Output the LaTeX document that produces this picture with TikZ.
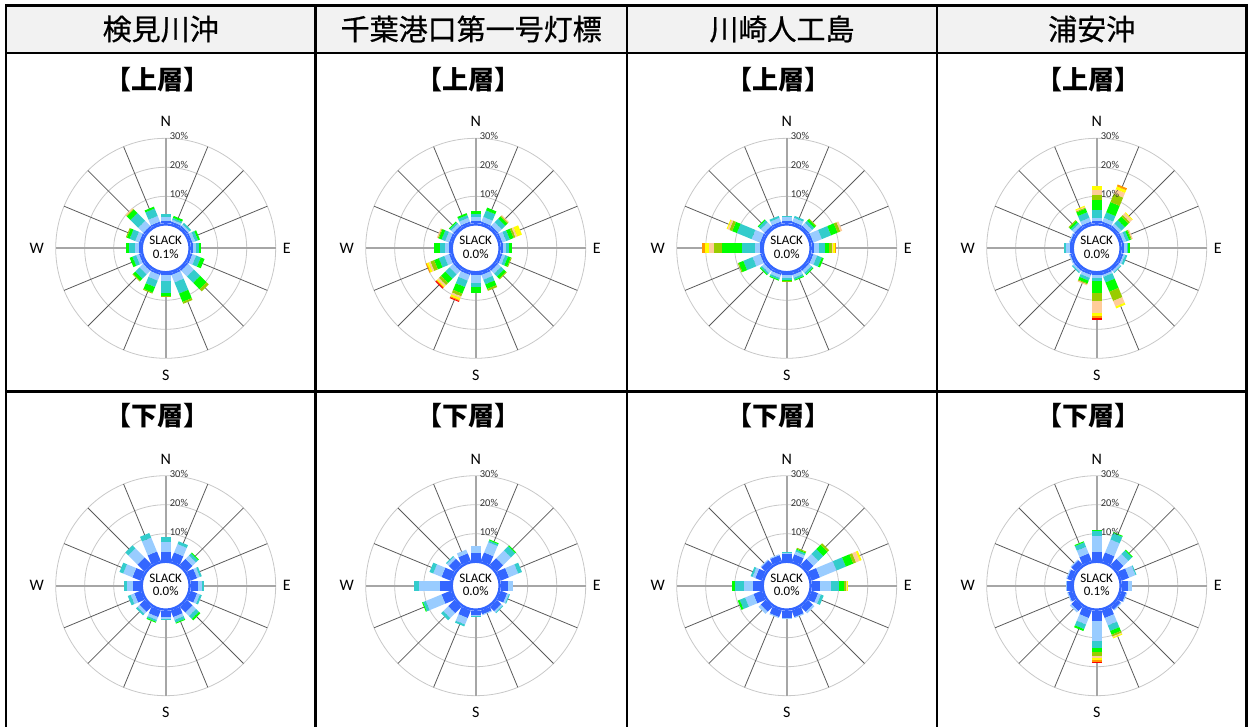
\documentclass[tikz,border=0pt]{standalone}
\usepackage{fontspec}
\setmainfont{Carlito}
\newfontfamily\jpfont{Noto Sans CJK JP}
\newfontfamily\jphead[FakeBold=0.6]{Noto Sans CJK JP}
\usetikzlibrary{calc}

% velocity classes, slowest first
\definecolor{vc1}{HTML}{3366FF}
\definecolor{vc2}{HTML}{99CCFF}
\definecolor{vc3}{HTML}{33CCCC}
\definecolor{vc4}{HTML}{00FF00}
\definecolor{vc5}{HTML}{99CC00}
\definecolor{vc6}{HTML}{FFCC99}
\definecolor{vc7}{HTML}{FFFF00}
\definecolor{vc8}{HTML}{FF9900}
\definecolor{vc9}{HTML}{FF0000}
\definecolor{headgray}{HTML}{F2F2F2}
\definecolor{ringgray}{HTML}{C8C8C8}
\definecolor{spokegray}{HTML}{5A5A5A}
\definecolor{axisgray}{HTML}{A6A6A6}

\tikzset{
  tabline/.style={line width=2.4pt, black},
  ringline/.style={line width=0.8pt, ringgray},
  spoke/.style={line width=0.8pt, spokegray},
  axisline/.style={line width=1.6pt, axisgray},
  vbar/.style={line width=10pt},
  dirlabel/.style={font=\fontsize{16}{18}\selectfont, inner sep=0pt},
  pctlabel/.style={font=\fontsize{10.5}{12}\selectfont, inner sep=0pt, anchor=west, text=black!80},
  slacktext/.style={font=\fontsize{13}{14}\selectfont, inner sep=0pt},
  headtext/.style={font=\jphead\fontsize{29}{32}\selectfont, inner sep=0pt},
  layertext/.style={font=\jpfont\bfseries\fontsize{26}{28}\selectfont, inner sep=0pt},
}

\def\windrose[#1](#2)#3#4{% [name] (centre) {slack} {16 bars from N clockwise, end radii}
 \begin{scope}[shift={(#2)}, yscale=-1]
  \foreach \rr in {52,81,110} \draw[ringline] (0,0) circle (\rr);
  \foreach \a in {0,22.5,...,337.5} \draw[spoke] (\a:25) -- (\a:110);
  \draw[axisline] (0,25) -- (0,110) (0,-25) -- (0,-110) (25,0) -- (110,0) (-25,0) -- (-110,0);
  \foreach \bl [count=\i from 0] in {#4} {
   \foreach \r [remember=\r as \rlast (initially 25), count=\k] in \bl {
    \draw[vbar, color=vc\k] ({90-22.5*\i}:\rlast) -- ({90-22.5*\i}:\r);
   }
  }
  \draw[vc1, line width=2.4pt, fill=white] (0,0) circle (24);
  \node[slacktext] (#1-slack) at (0,7.6) {SLACK};
  \node[slacktext] (#1-calm) at (0,-5.7) {#3};
  \node[pctlabel] (#1-p10) at (4,54) {10\%};
  \node[pctlabel] (#1-p20) at (4,83) {20\%};
  \node[pctlabel] (#1-p30) at (4,112) {30\%};
  \node[dirlabel] (#1-N) at (0,126.6) {N};
  \node[dirlabel] (#1-S) at (0,-126.7) {S};
  \node[dirlabel] (#1-E) at (121,0) {E};
  \node[dirlabel] (#1-W) at (-129,0) {W};
 \end{scope}}

\begin{document}
\begin{tikzpicture}[x=1pt, y=-1pt]
\useasboundingbox (0,0) rectangle (1249,727);
% table
\fill[headgray] (6,5.5) rectangle (1246.5,53);
\draw[tabline] (6,727) -- (6,5.5) -- (1246.5,5.5) -- (1246.5,727);
\draw[tabline] (6,53) -- (1246.5,53) (6,391.5) -- (1246.5,391.5);
\foreach \x in {315.5,627,937} \draw[tabline] (\x,5.5) -- (\x,727);

\node[headtext] (head1) at (160.7,29) {検見川沖};
\node[headtext] (head2) at (471.2,29) {千葉港口第一号灯標};
\node[headtext] (head3) at (782,29) {川崎人工島};
\node[headtext] (head4) at (1091.7,29) {浦安沖};

\foreach \x [count=\c] in {157,468,778.5,1088.5} {
  \node[layertext] (upper\c) at (\x,80) {【上層】};
  \node[layertext] (lower\c) at (\x,416) {【下層】};
}

% upper layer
\windrose[ua](165.7,248.3){0.1\%}{{27,31,34},{27,29,31,33},{27,29,31},{27,30,33,35},{27,30,33,35},{27,31,36,40},{27,35,44,53,56},{27,35,47,56,58},{27,33,45,48,49},{27,33,40,46,47},{27,32,38,41,42},{27,30,34,37},{27,31,37,40},{27,31,37,40,41},{27,34,45,50,51,52},{27,33,41,43}}
\windrose[ub](475.7,248.3){0.0\%}{{27,31,34,37},{27,32,39,42},{27,32,37,40,41,42},{27,31,35,39,41,43,48},{27,30,33,36},{27,30,33,36,37},{27,31,35,38,39},{27,32,37,42,44},{27,35,39,45},{27,33,40,47,50,52,54,55,56},{27,32,38,44,47,49,50,51,52},{27,32,38,43,47,49,51,52},{27,31,36,42},{27,31,35,38,39,40},{27,30,32,33},{27,31,34,36}}
\windrose[uc](786.7,248.3){0.0\%}{{27,31,32},{27,31,33},{27,31,34,36,37},{27,36,46,53,56,58},{27,32,38,42,45,46,48,49},{27,31,36,38},{27,30,32,33},{27,30,32,33},{27,30,32,33,34},{27,30,32,33},{27,30,32,33},{27,35,45,50,51},{27,32,45,65,73,78,82,85},{27,36,52,57,60,62,63},{27,32,35,36},{27,31,33}}
\windrose[ud](1096.7,248.3){0.0\%}{{27,30,38,48,53,58,62},{27,31,37,48,57,62,65,67},{27,30,35,40,42,45,46},{27,30,33,35,36,37},{27,30,31,33},{27,29,31},{27,29,30},{27,29,35,45,55,61,63},{27,30,33,45,53,65,68,70,72},{27,30,33,36,37,38},{27,29,30},{27,28},{27,31,33},{27,28},{27,30,32,34,35},{27,31,37,41,42,43,44}}

% lower layer
\windrose[la](165.7,585.7){0.0\%}{{34,44,49},{34,43,46},{33,38,41,42},{32,35,37},{32,36,38},{32,35,37},{33,38,42,44},{32,35,38,39},{31,33,34},{32,35,37,38},{32,35,37},{32,36,39},{33,39,42},{34,44,48},{35,48,52},{35,50,55}}
\windrose[lb](475.7,585.7){0.0\%}{{33,40},{34,45,47,48},{34,45,51,52},{34,44,48},{32,37},{32,34,35},{31,33,34},{29,30},{29,30,31},{33,40,42},{34,41,44},{35,52,55,56},{36,57,62},{35,44,48},{33,36,37},{33,37}}
\windrose[lc](786.7,585.7){0.0\%}{{32,33,34},{32,35,37,38,39},{33,40,47,53,55},{34,52,62,70,73,77,79},{33,44,52,57,59,60,61},{32,35,38},{32,34},{32,33},{32,33},{32,33},{32,35},{34,43,49,51},{34,43,52,55},{32,35,37},{31,32},{31,32}}
\windrose[ld](1096.7,585.7){0.1\%}{{34,50,55,56},{34,48,55,56},{33,40,45,46},{33,40,41},{31,35},{30,31},{29,30},{33,41,47,51,53,54,55},{35,55,62,66,70,72,74,76,77},{33,40,45,47},{31,33},{29,30},{30,31},{30,31},{31,32},{33,40,45,46}}
\end{tikzpicture}
\end{document}
